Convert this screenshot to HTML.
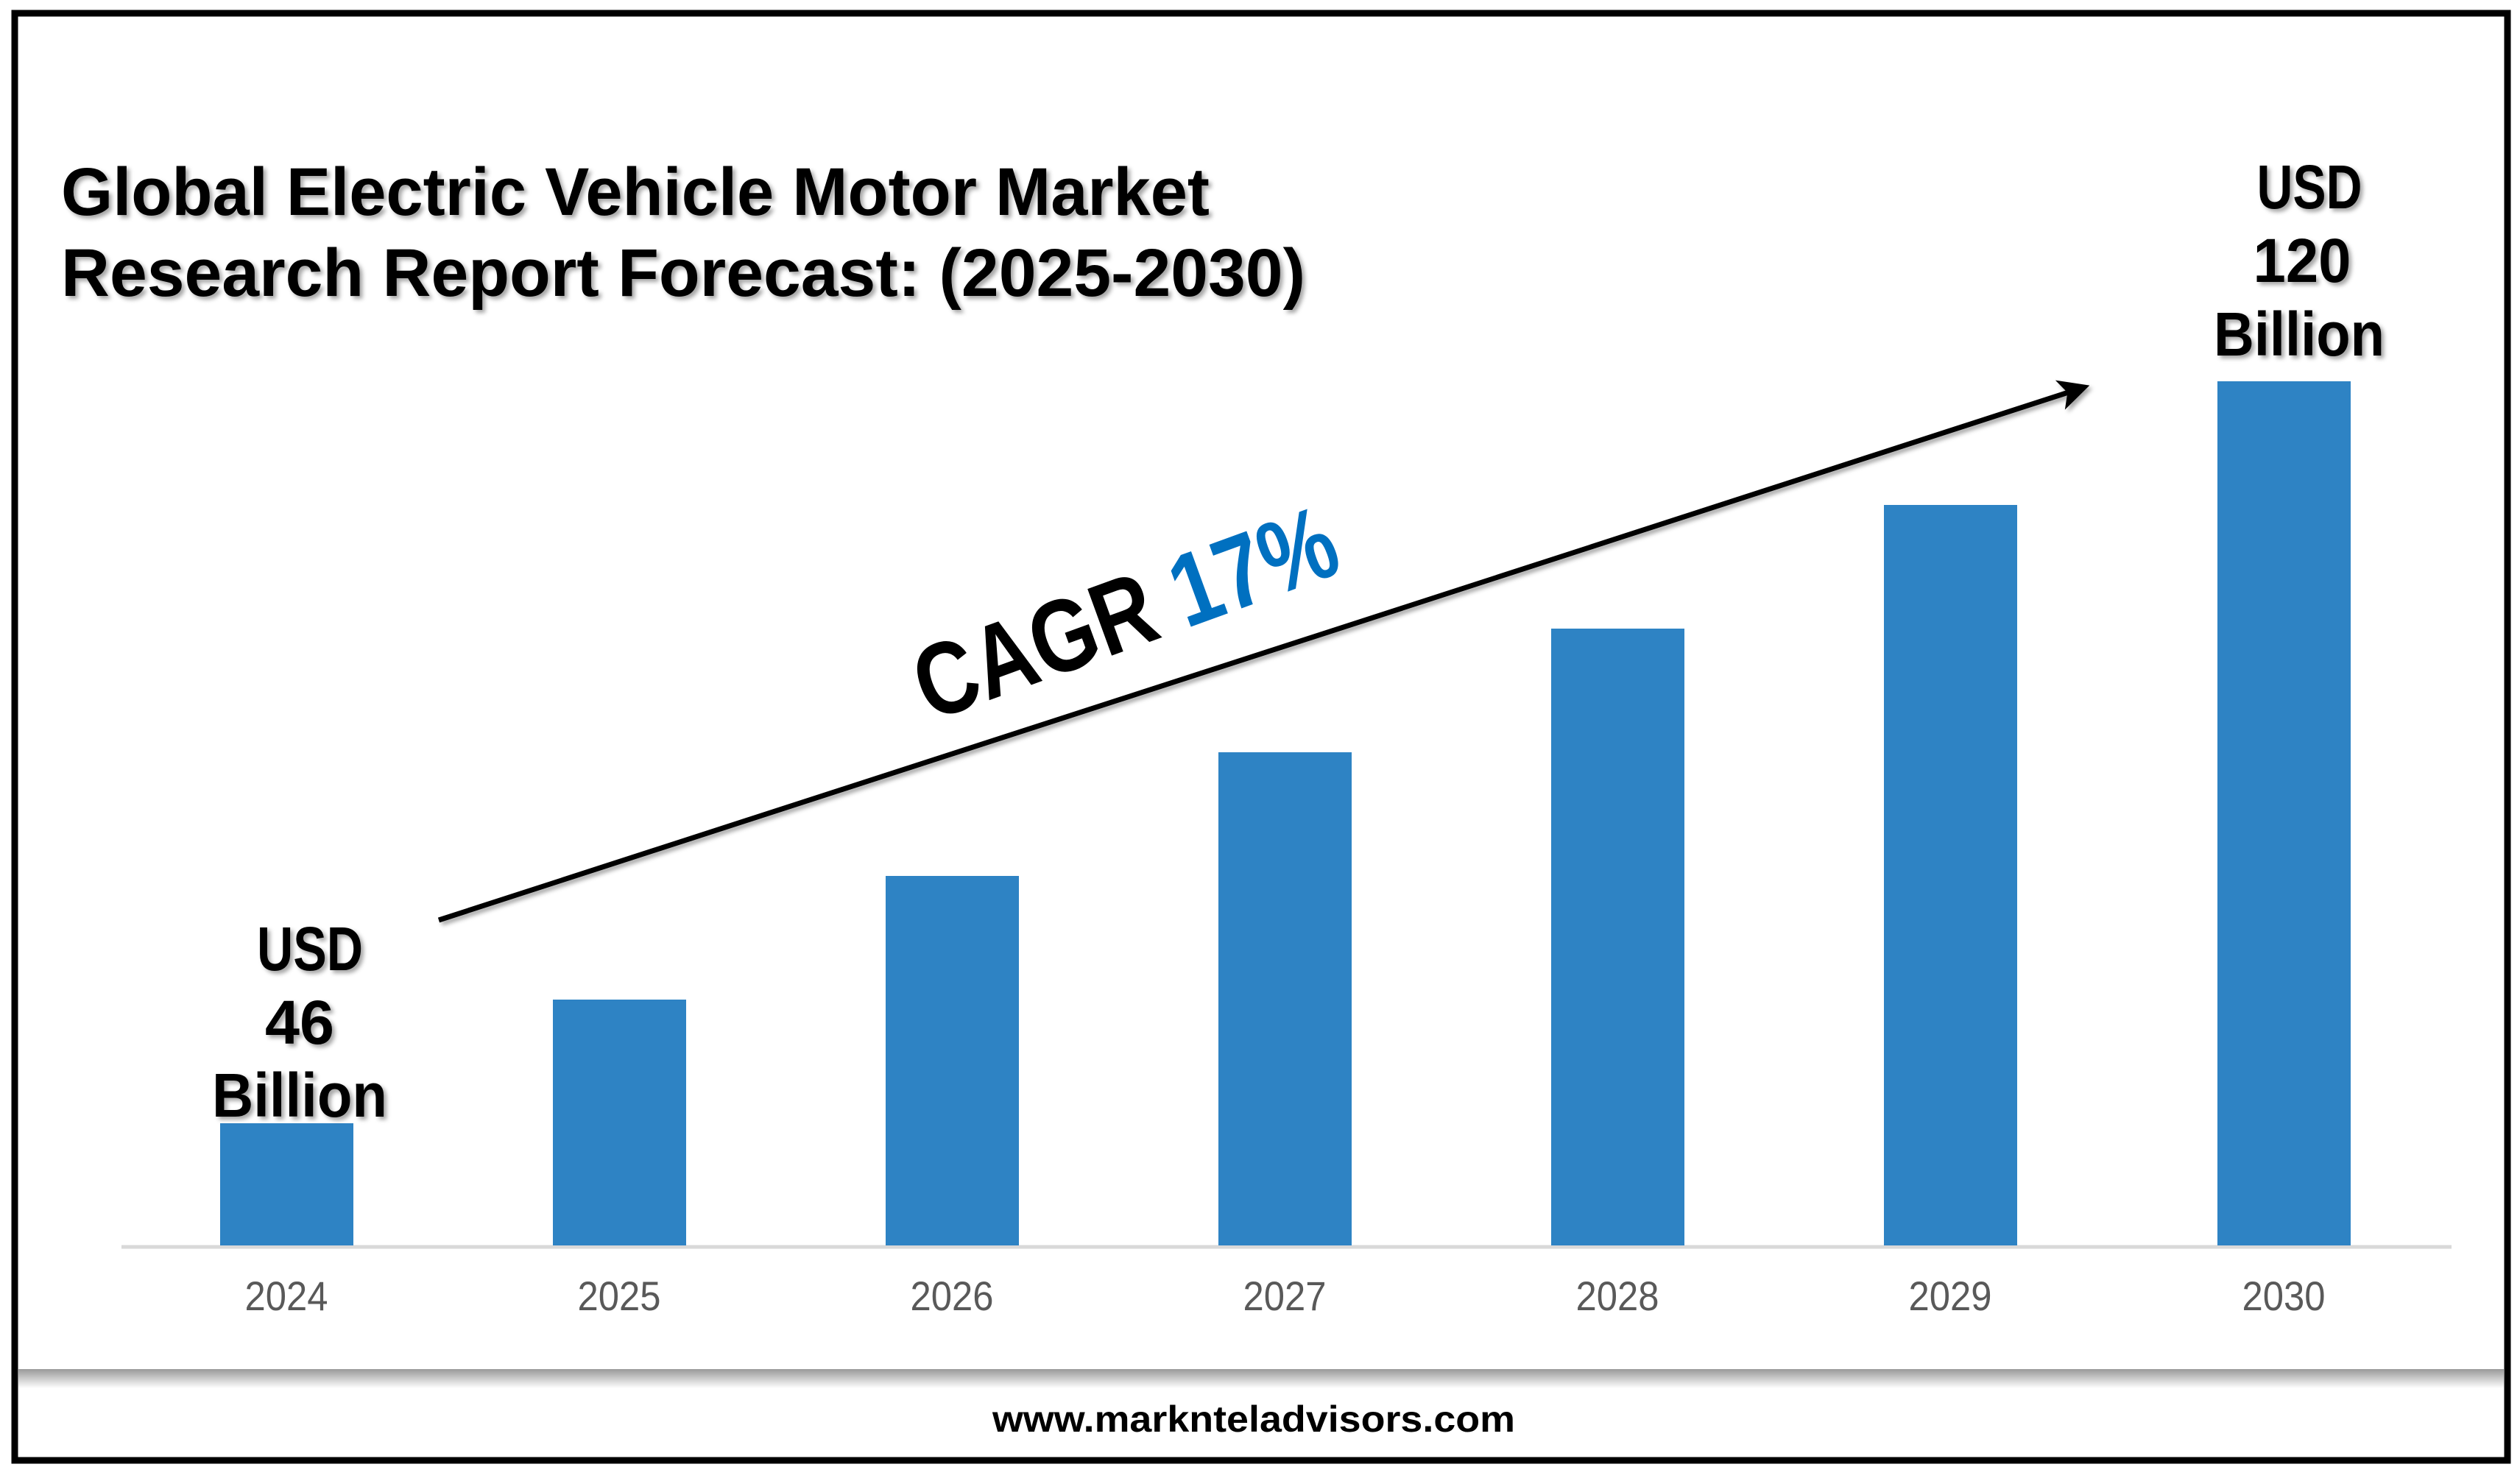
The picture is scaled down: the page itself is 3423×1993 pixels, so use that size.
<!DOCTYPE html>
<html><head><meta charset="utf-8"><style>
html,body{margin:0;padding:0;background:#fff;}
svg{display:block;}
text{font-family:"Liberation Sans",sans-serif;}
</style></head><body>
<svg width="3423" height="1993" viewBox="0 0 3423 1993" xmlns="http://www.w3.org/2000/svg">
<defs>
<filter id="sh" x="-10%" y="-10%" width="130%" height="130%">
<feDropShadow dx="4" dy="4" stdDeviation="3" flood-color="#000" flood-opacity="0.35"/>
</filter>
<linearGradient id="band" x1="0" y1="0" x2="0" y2="1">
<stop offset="0" stop-color="#999"/><stop offset="1" stop-color="#fff"/>
</linearGradient>
<marker id="ah" markerWidth="6" markerHeight="6" refX="4" refY="3" orient="auto" markerUnits="strokeWidth">
<path d="M0,0 L6,3 L0,6 L1.5,3 Z" fill="#000"/>
</marker>
</defs>
<rect x="0" y="0" width="3423" height="1993" fill="#fff"/>
<rect x="20" y="18" width="3386" height="1966" fill="none" stroke="#000" stroke-width="9"/>
<rect x="25" y="1860" width="3376" height="26" fill="url(#band)"/>

<g filter="url(#sh)" font-weight="bold" fill="#000">
<text x="83" y="292" font-size="92" textLength="1560" lengthAdjust="spacingAndGlyphs">Global Electric Vehicle Motor Market</text>
<text x="83" y="402" font-size="92" textLength="1690" lengthAdjust="spacingAndGlyphs">Research Report Forecast: (2025-2030)</text>
</g>

<line x1="165" y1="1694" x2="3330" y2="1694" stroke="#d9d9d9" stroke-width="5"/>
<g fill="#2E83C4">
<rect x="299" y="1526" width="181" height="166"/>
<rect x="751" y="1358" width="181" height="334"/>
<rect x="1203" y="1190" width="181" height="502"/>
<rect x="1655" y="1022" width="181" height="670"/>
<rect x="2107" y="854" width="181" height="838"/>
<rect x="2559" y="686" width="181" height="1006"/>
<rect x="3012" y="518" width="181" height="1174"/>
</g>
<g fill="#595959" font-size="56" text-anchor="middle">
<text x="389" y="1780" textLength="113" lengthAdjust="spacingAndGlyphs">2024</text>
<text x="841" y="1780" textLength="113" lengthAdjust="spacingAndGlyphs">2025</text>
<text x="1293" y="1780" textLength="113" lengthAdjust="spacingAndGlyphs">2026</text>
<text x="1745" y="1780" textLength="113" lengthAdjust="spacingAndGlyphs">2027</text>
<text x="2197" y="1780" textLength="113" lengthAdjust="spacingAndGlyphs">2028</text>
<text x="2649" y="1780" textLength="113" lengthAdjust="spacingAndGlyphs">2029</text>
<text x="3102" y="1780" textLength="113" lengthAdjust="spacingAndGlyphs">2030</text>
</g>

<g filter="url(#sh)" font-weight="bold" fill="#000" font-size="84" text-anchor="middle">
<text x="421" y="1318" textLength="144" lengthAdjust="spacingAndGlyphs">USD</text>
<text x="407" y="1418" textLength="94" lengthAdjust="spacingAndGlyphs">46</text>
<text x="407" y="1517" textLength="238" lengthAdjust="spacingAndGlyphs">Billion</text>
<text x="3137" y="283" textLength="143" lengthAdjust="spacingAndGlyphs">USD</text>
<text x="3127" y="383" textLength="133" lengthAdjust="spacingAndGlyphs">120</text>
<text x="3123" y="483" textLength="232" lengthAdjust="spacingAndGlyphs">Billion</text>
</g>

<line x1="596" y1="1250" x2="2825" y2="528" stroke="#000" stroke-width="7" marker-end="url(#ah)" filter="url(#sh)"/>

<g transform="translate(1545,878) rotate(-20)" font-weight="bold" font-size="140">
<text x="0" y="0" text-anchor="middle" textLength="600" lengthAdjust="spacingAndGlyphs"><tspan fill="#000">CAGR </tspan><tspan fill="#0070C0">17%</tspan></text>
</g>

<text x="1703" y="1945" font-size="50" font-weight="bold" fill="#000" text-anchor="middle" textLength="710" lengthAdjust="spacingAndGlyphs">www.marknteladvisors.com</text>
</svg>
</body></html>
